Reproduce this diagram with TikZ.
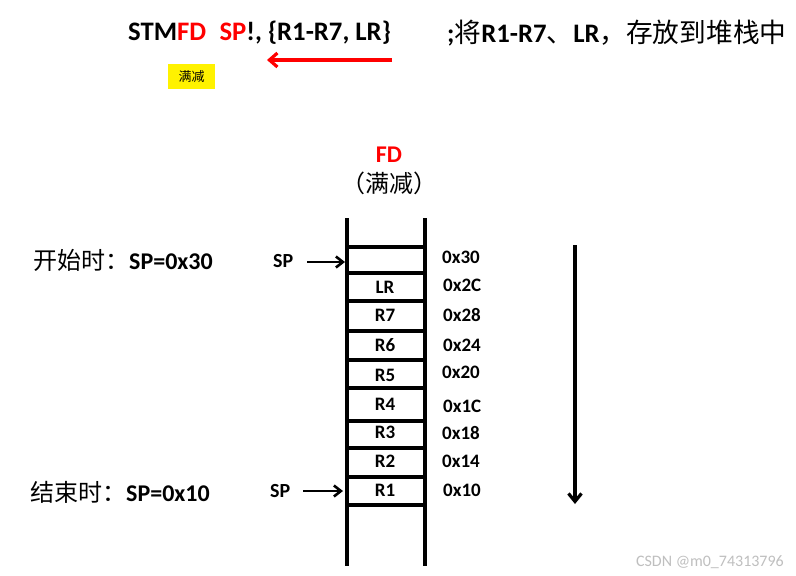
\documentclass[tikz,border=0pt]{standalone}
\usepackage{fontspec}
\setmainfont{Carlito}
\newfontfamily\cjk{Noto Sans CJK SC}
\usetikzlibrary{arrows.meta}
\newcommand{\zh}[1]{{\cjk\mdseries #1}}
\begin{document}
\begin{tikzpicture}[x=1pt,y=-1pt,
  lbl/.style={font=\bfseries\fontsize{19}{22}\selectfont, inner sep=0pt},
  big/.style={font=\bfseries\fontsize{26.7}{30}\selectfont, inner sep=0pt, anchor=west},
  side/.style={font=\bfseries\fontsize{24}{28}\selectfont, inner sep=0pt, anchor=west},
  wall/.style={line width=3.4pt, black},
  shelf/.style={line width=3.2pt, black},
  ptr/.style={line width=2.6pt, -{Straight Barb[length=7pt,width=11pt,line width=2.6pt]}},
]
\useasboundingbox (0,0) rectangle (796,576);
\fill[white] (0,0) rectangle (796,576);

% top instruction
\node[big] (instr) at (128,33) {STM\textcolor{red}{FD}\hspace{0.5em}\textcolor{red}{SP}!, \{R1-R7, LR\}};
\node[big] (comment) at (447,33) {;\zh{将}R1-R7\zh{、}LR\zh{，存放到堆栈中}};
\coordinate (ra) at (392,60);
\coordinate (rb) at (267,60);
\draw[line width=3.2pt, red, -{Straight Barb[length=8pt,width=14pt,line width=3.2pt]}] (ra) -- (rb);
\node[fill=yellow, minimum width=47pt, minimum height=25pt, inner sep=0pt, font=\cjk\fontsize{13}{15}\selectfont] (tag) at (191.5,76.5) {满减};

% heading
\node[font=\bfseries\fontsize{24}{28}\selectfont, text=red, inner sep=0pt] (fd) at (389,155) {FD};
\node[font=\cjk\fontsize{24}{28}\selectfont, inner sep=0pt] (fdzh) at (389,183) {（满减）};

% stack walls
\coordinate (lt) at (347,218);
\coordinate (lb) at (347,566);
\coordinate (rt) at (425,218);
\coordinate (rbt) at (425,566);
\draw[wall] (lt) -- (lb);
\draw[wall] (rt) -- (rbt);
\foreach \yy in {247,273,301,331,360,388,421,448,477,505} {
  \draw[shelf] (347,\yy) -- (425,\yy);
}

% register labels
\node[lbl] (lr) at (385,287) {LR};
\node[lbl] (r7) at (385,315) {R7};
\node[lbl] (r6) at (385,345) {R6};
\node[lbl] (r5) at (385,375) {R5};
\node[lbl] (r4) at (385,404) {R4};
\node[lbl] (r3) at (385,432) {R3};
\node[lbl] (r2) at (385,461) {R2};
\node[lbl] (r1) at (385,490) {R1};

% addresses
\node[lbl, anchor=west] (a30) at (442,257) {0x30};
\node[lbl, anchor=west] (a2c) at (443,285) {0x2C};
\node[lbl, anchor=west] (a28) at (443,315) {0x28};
\node[lbl, anchor=west] (a24) at (443,345) {0x24};
\node[lbl, anchor=west] (a20) at (442,372) {0x20};
\node[lbl, anchor=west] (a1c) at (443,406) {0x1C};
\node[lbl, anchor=west] (a18) at (442,433) {0x18};
\node[lbl, anchor=west] (a14) at (442,461) {0x14};
\node[lbl, anchor=west] (a10) at (443,490) {0x10};

% SP pointers
\node[lbl, font=\bfseries\fontsize{20}{23}\selectfont, anchor=west] (sptop) at (273,261) {SP};
\coordinate (sptoptip) at (345,262);
\draw[ptr] (307,262) -- (sptoptip);
\node[lbl, font=\bfseries\fontsize{20}{23}\selectfont, anchor=west] (spbot) at (270,491) {SP};
\coordinate (spbottip) at (343,491);
\draw[ptr] (303,491) -- (spbottip);

% side notes
\node[side] (start) at (33,260) {\zh{开始时：}SP=0x30};
\node[side] (end) at (30,492) {\zh{结束时：}SP=0x10};

% direction arrow
\coordinate (dtop) at (575,245);
\coordinate (dbot) at (575,504);
\draw[line width=3.2pt, -{Straight Barb[length=8pt,width=13pt,line width=3.2pt]}] (dtop) -- (dbot);

% watermark
\node[font=\fontsize{16}{18}\selectfont, text=black!25, anchor=east, inner sep=0pt] (wm) at (784,562) {CSDN @m0\_74313796};
\end{tikzpicture}
\end{document}
